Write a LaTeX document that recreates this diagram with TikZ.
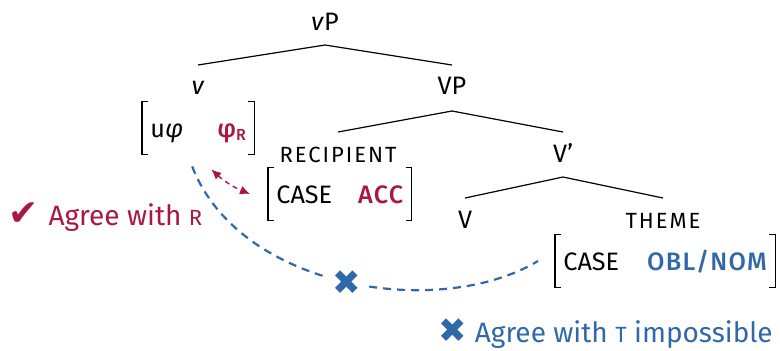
\documentclass[tikz,border=0pt]{standalone}
\usepackage{fontspec}
\setmainfont{Fira Sans}
\newfontfamily\medfont{Fira Sans Medium}
\newfontfamily\symfont{DejaVu Sans}
\usetikzlibrary{arrows.meta}
\definecolor{agreered}{RGB}{168,24,66}
\definecolor{agreeblue}{RGB}{48,104,170}
\newcommand{\fsc}[1]{{\fontsize{11}{12}\selectfont\addfontfeature{LetterSpace=9}#1}}
\newcommand{\val}[1]{{\medfont\addfontfeature{LetterSpace=5}#1}}
\newcommand{\avmbrackets}[1]{%
  \draw[line width=0.6pt] ([xshift=3pt]#1.north west) -- (#1.north west) -- (#1.south west) -- ([xshift=3pt]#1.south west);
  \draw[line width=0.6pt] ([xshift=-3pt]#1.north east) -- (#1.north east) -- (#1.south east) -- ([xshift=-3pt]#1.south east);}
\tikzset{
  cat/.style={anchor=base,inner sep=0pt},
  avm/.style={anchor=base west,inner ysep=0pt,inner xsep=4pt,text height=17.5pt,text depth=8.5pt},
  branch/.style={line width=0.6pt},
  remark/.style={anchor=base west,inner sep=0pt,font=\fontsize{14}{16}\selectfont},
  agreeok/.style={agreered,line width=0.7pt,dash pattern=on 2.5pt off 2pt,{Latex[length=5pt,width=4.5pt]}-{Latex[length=5pt,width=4.5pt]}},
  agreefail/.style={agreeblue,line width=1.1pt,dash pattern=on 4pt off 3pt},
}
\begin{document}
\begin{tikzpicture}[x=0.5pt,y=-0.5pt,font=\fontsize{12.6}{15}\selectfont]
  \useasboundingbox (0,0) rectangle (780,350);
  % tree
  \node[cat] (vp) at (325,30) {\textit{v}P};
  \node[cat] (vhead) at (198,94) {\textit{v}};
  \node[cat] (VP) at (452,94) {VP};
  \node[cat] (recip) at (338,162) {\fsc{RECIPIENT}};
  \node[cat] (vbar) at (563,162) {V’};
  \node[cat] (verb) at (465,228) {V};
  \node[cat] (theme) at (663,228) {\fsc{THEME}};
  \draw[branch] ([yshift=14.5pt]vhead.base) -- ([yshift=-7.5pt]vp.base) -- ([yshift=14.5pt]VP.base);
  \draw[branch] ([yshift=15pt]recip.base) -- ([yshift=-8.5pt]VP.base) -- ([yshift=15pt]vbar.base);
  \draw[branch] ([yshift=15pt]verb.base) -- ([yshift=-7.5pt]vbar.base) -- ([yshift=15pt]theme.base);
  % feature bundles
  \node[avm] (vfeat) at (142,137) {u\textit{φ}\hspace{17pt}\textcolor{agreered}{\val{φ}\raisebox{-1.5pt}{\medfont\fontsize{8}{8}\selectfont R}}};
  \node[avm] (recfeat) at (268,203) {CASE\hspace{13pt}\textcolor{agreered}{\val{ACC}}};
  \node[avm] (thfeat) at (555,270) {CASE\hspace{14pt}\textcolor{agreeblue}{\val{OBL/NOM}}};
  \avmbrackets{vfeat}
  \avmbrackets{recfeat}
  \avmbrackets{thfeat}
  % agree relations
  \draw[agreeok] ([xshift=-21.5pt,yshift=-7.5pt]vfeat.south east) to[bend right=10] ([xshift=-9pt]recfeat.west);
  \draw[agreefail] ([xshift=-3pt,yshift=-6pt]vfeat.south) .. controls (240,290) and (440,320) .. ([xshift=-8.5pt]thfeat.west)
    node[pos=0.5,fill=white,inner sep=3pt,text=agreeblue,font=\symfont\fontsize{17}{17}\selectfont] (block) {✖};
  \node[remark,text=agreered] (agreeR) at (8,225) {{\symfont\fontsize{18}{18}\selectfont ✔}\hspace{5pt}Agree with \fsc{R}};
  \node[remark,text=agreeblue] (agreeT) at (438,342) {{\symfont\fontsize{17}{17}\selectfont ✖}\hspace{4pt}Agree with \fsc{T} impossible};
\end{tikzpicture}
\end{document}
